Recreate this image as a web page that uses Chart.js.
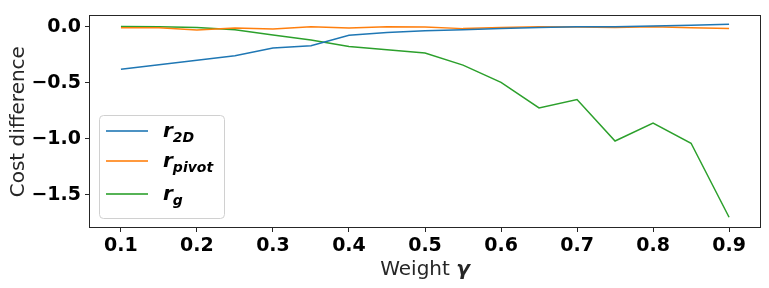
<!DOCTYPE html>
<html>
<head>
<meta charset="utf-8">
<script src="https://cdn.jsdelivr.net/npm/chart.js@4.4.1/dist/chart.umd.min.js"></script>
<style>
  html, body { margin: 0; padding: 0; background: #fff; }
  #wrap { width: 769px; height: 288px; }
</style>
</head>
<body>
<div id="wrap"><canvas id="costChart"></canvas></div>
<script>
// data
const weights = [0.1, 0.15, 0.2, 0.25, 0.3, 0.35, 0.4, 0.45, 0.5, 0.55, 0.6, 0.65, 0.7, 0.75, 0.8, 0.85, 0.9];
const r2d    = [-0.38, -0.34, -0.30, -0.26, -0.19, -0.17, -0.076, -0.052, -0.035, -0.026, -0.017, -0.006, 0.0, 0.0, 0.006, 0.013, 0.023];
const rPivot = [-0.01, -0.01, -0.03, -0.012, -0.02, 0.0, -0.012, 0.0, -0.003, -0.017, -0.006, 0.0, -0.003, -0.006, 0.0, -0.009, -0.015];
const rG     = [0.003, 0.0, -0.006, -0.026, -0.073, -0.119, -0.177, -0.206, -0.235, -0.343, -0.497, -0.725, -0.65, -1.02, -0.86, -1.04, -1.70];
const seriesLabels = ['r_2D', 'r_pivot', 'r_g'];
const seriesColors = ['#1f77b4', '#ff7f0e', '#2ca02c'];
const xTicks = [0.1, 0.2, 0.3, 0.4, 0.5, 0.6, 0.7, 0.8, 0.9];
const yTicks = [-1.5, -1.0, -0.5, 0.0];

const FONT = "'DejaVu Sans', sans-serif";
const INK = '#262626';

const toPoints = (vals) => vals.map((v, i) => ({ x: weights[i], y: v }));

// frame, axis titles and the math-style legend
const extrasPlugin = {
  id: 'extras',
  afterDraw(chart) {
    const ctx = chart.ctx;
    const a = chart.chartArea;
    ctx.save();

    // box round the axes
    ctx.strokeStyle = INK;
    ctx.lineWidth = 1;
    ctx.strokeRect(Math.round(a.left) + 0.5, Math.round(a.top) + 0.5,
      Math.round(a.right - a.left) - 1, Math.round(a.bottom - a.top) - 1);

    // x title: "Weight γ" (γ bold italic)
    ctx.fillStyle = INK;
    ctx.textBaseline = 'alphabetic';
    ctx.textAlign = 'left';
    const plain = 'Weight ';
    ctx.font = '20px ' + FONT;
    const w1 = ctx.measureText(plain).width;
    ctx.font = 'italic bold 20px ' + FONT;
    const w2 = ctx.measureText('γ').width;
    const x0 = (a.left + a.right) / 2 - (w1 + w2) / 2;
    ctx.font = '20px ' + FONT;
    ctx.fillText(plain, x0, 275);
    ctx.font = 'italic bold 20px ' + FONT;
    ctx.fillText('γ', x0 + w1, 275);

    // y title
    ctx.save();
    ctx.translate(23.5, (a.top + a.bottom) / 2);
    ctx.rotate(-Math.PI / 2);
    ctx.font = '20px ' + FONT;
    ctx.textAlign = 'center';
    ctx.fillText('Cost difference', 0, 0);
    ctx.restore();

    // legend
    const bx = 99.5, by = 115.5, bw = 125, bh = 103, r = 4;
    ctx.beginPath();
    ctx.moveTo(bx + r, by);
    ctx.arcTo(bx + bw, by, bx + bw, by + bh, r);
    ctx.arcTo(bx + bw, by + bh, bx, by + bh, r);
    ctx.arcTo(bx, by + bh, bx, by, r);
    ctx.arcTo(bx, by, bx + bw, by, r);
    ctx.closePath();
    ctx.fillStyle = 'rgba(255,255,255,0.8)';
    ctx.fill();
    ctx.strokeStyle = '#d0d0d0';
    ctx.stroke();

    const rowY = [131, 161, 194];
    chart.data.datasets.forEach((ds, i) => {
      const y = rowY[i];
      ctx.strokeStyle = ds.borderColor;
      ctx.globalAlpha = 0.8;
      ctx.lineWidth = 2;
      ctx.beginPath();
      ctx.moveTo(106, y);
      ctx.lineTo(148, y);
      ctx.stroke();
      ctx.globalAlpha = 1;

      const parts = ds.label.split('_');
      ctx.fillStyle = '#000';
      ctx.font = 'italic bold 20px ' + FONT;
      ctx.fillText(parts[0], 163, y + 6);
      const rw = ctx.measureText(parts[0]).width;
      ctx.font = 'italic bold 14px ' + FONT;
      ctx.fillText(parts[1], 163 + rw, y + 11);
    });

    ctx.restore();
  }
};

const ctx = document.getElementById('costChart').getContext('2d');

new Chart(ctx, {
  type: 'line',
  data: {
    datasets: seriesLabels.map((label, i) => ({
      label: label,
      data: toPoints([r2d, rPivot, rG][i]),
      borderColor: seriesColors[i],
      backgroundColor: seriesColors[i],
      borderWidth: 1.5,
      pointRadius: 0,
      tension: 0,
      fill: false
    }))
  },
  options: {
    responsive: true,
    maintainAspectRatio: false,
    animation: false,
    events: [],
    layout: { padding: { left: 0, top: 11, right: 8, bottom: 0 } },
    plugins: {
      legend: { display: false },
      tooltip: { enabled: false }
    },
    scales: {
      x: {
        type: 'linear',
        min: 0.058,
        max: 0.942,
        afterBuildTicks: (scale) => { scale.ticks = xTicks.map(v => ({ value: v })); },
        afterFit: (scale) => { scale.height = 60; },
        border: { display: false },
        grid: {
          display: true,
          drawOnChartArea: false,
          drawTicks: true,
          tickLength: 4,
          tickColor: INK
        },
        ticks: {
          autoSkip: false,
          maxRotation: 0,
          padding: 3,
          color: '#000',
          font: { family: FONT, size: 19, weight: 'bold' },
          callback: (v) => v.toFixed(1)
        }
      },
      y: {
        min: -1.796,
        max: 0.101,
        afterBuildTicks: (scale) => { scale.ticks = yTicks.map(v => ({ value: v })); },
        afterFit: (scale) => { scale.width = 89; },
        border: { display: false },
        grid: {
          display: true,
          drawOnChartArea: false,
          drawTicks: true,
          tickLength: 4,
          tickColor: INK
        },
        ticks: {
          padding: 4,
          color: '#000',
          font: { family: FONT, size: 19, weight: 'bold' },
          callback: (v) => v.toFixed(1).replace('-', '\u2212')
        }
      }
    }
  },
  plugins: [extrasPlugin]
});
</script>
</body>
</html>
